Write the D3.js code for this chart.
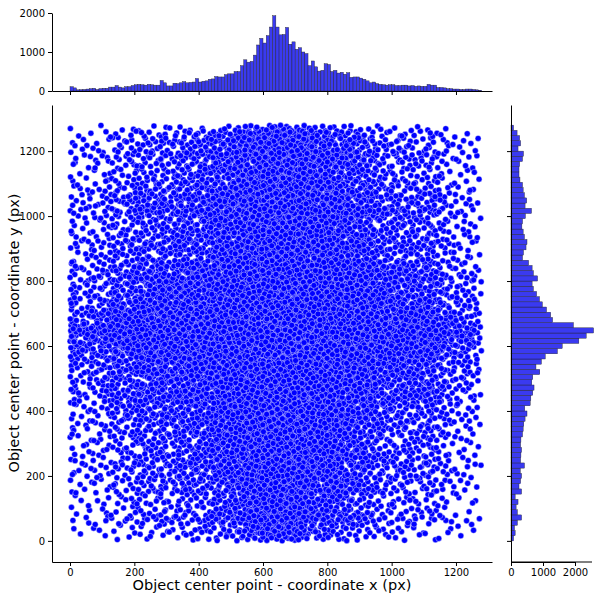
<!DOCTYPE html><html><head><meta charset="utf-8"><script src="https://cdn.jsdelivr.net/npm/d3@7"></script>
<style>body{margin:0;background:#fff}text{font-family:"DejaVu Sans",sans-serif}</style></head><body><svg id="c" width="600" height="600"></svg>
<script>
// x marginal histogram: bin width 10, starting at 0
const xBinWidth = 10;
const xCounts = [110,80,30,35,40,50,60,70,40,60,70,70,100,100,140,100,80,110,110,140,
160,170,160,150,170,160,150,150,270,210,130,130,200,190,210,240,210,220,230,320,
230,250,260,300,310,370,360,360,420,440,440,500,500,650,800,740,760,920,1180,1350,
1230,1420,1640,1930,1640,1440,1450,1630,1200,1260,1070,1110,1000,960,650,770,620,510,530,700,
680,500,530,460,480,430,470,350,360,360,330,300,260,210,230,190,170,160,150,160,
160,140,140,150,150,130,140,120,130,120,120,170,150,150,90,90,80,60,60,50,
50,40,40,50,50,40,30,20];
// y marginal histogram: bin width 16, listed from top (1280) down to 0
const yBinWidth = 16;
const yCountsTopDown = [80,190,270,300,220,390,360,270,250,250,280,360,380,420,490,440,640,450,360,340,
380,420,500,470,390,360,550,660,700,830,660,700,800,890,980,1110,1240,1300,1950,2580,
2350,2120,1600,1450,1070,950,780,900,680,650,720,680,620,600,430,500,440,400,380,360,
310,300,330,310,300,420,290,330,300,250,330,130,220,160,200,330,200,110,130,80];
const yCounts = yCountsTopDown.slice().reverse();
const xTicks = [0,200,400,600,800,1000,1200];
const yTicks = [0,200,400,600,800,1000,1200];
const topTicks = [0,1000,2000];
const rightTicks = [0,1000,2000];
const nPoints = 15000;

const svg = d3.select("#c");
const x = d3.scaleLinear().domain([-56,1312]).range([52,492]);
const y = d3.scaleLinear().domain([-65,1342]).range([562,105]);
const hy = d3.scaleLinear().domain([0,2000]).range([91,13]);
const hx = d3.scaleLinear().domain([0,2000]).range([511,575]);
const fmt = d3.format("d");

function halton(i,b){let f=1,r=0;while(i>0){f/=b;r+=f*(i%b);i=Math.floor(i/b);}return r;}
function invCdf(counts,w){const tot=d3.sum(counts);const cum=d3.cumsum(counts);
  return u=>{const t=u*tot;let k=d3.bisectLeft(cum,t);k=Math.min(k,counts.length-1);
    const prev=k?cum[k-1]:0;return (k+(t-prev)/counts[k])*w;};}
const fx=invCdf(xCounts.map(v=>Math.pow(v,0.7)),xBinWidth), fy=invCdf(yCounts.map(v=>Math.pow(v,0.7)),yBinWidth);
const pts=d3.range(1,nPoints+1).map(i=>[fx(halton(i,2)),fy(halton(i,3))]);
svg.append("g").selectAll("circle").data(pts).join("circle")
  .attr("cx",d=>x(d[0])).attr("cy",d=>y(d[1])).attr("r",3)
  .attr("fill","#0000ff").attr("stroke","#fff").attr("stroke-width",0.4);

function ax(g){g.selectAll("text").attr("font-size",10).attr("fill","#000");}
ax(svg.append("g").attr("transform","translate(0,562)").call(d3.axisBottom(x).tickValues(xTicks).tickFormat(fmt).tickSize(4).tickPadding(3).tickSizeOuter(0)));
ax(svg.append("g").attr("transform","translate(52,0)").call(d3.axisLeft(y).tickValues(yTicks).tickFormat(fmt).tickSize(4).tickPadding(3).tickSizeOuter(0)));
svg.append("text").attr("x",272).attr("y",590).attr("text-anchor","middle").attr("font-size",14.5).text("Object center point - coordinate x (px)");
svg.append("text").attr("transform","translate(19,333) rotate(-90)").attr("text-anchor","middle").attr("font-size",14.5).text("Object center point - coordinate y (px)");

svg.append("g").selectAll("rect").data(xCounts).join("rect")
  .attr("x",(d,i)=>x(i*xBinWidth)).attr("width",x(xBinWidth)-x(0))
  .attr("y",d=>hy(d)).attr("height",d=>hy(0)-hy(d))
  .attr("fill","#3a3af0").attr("stroke","#222").attr("stroke-width",0.4);
svg.append("g").attr("transform","translate(0,91)").call(d3.axisBottom(x).tickValues(xTicks).tickFormat("").tickSize(4).tickSizeOuter(0));
ax(svg.append("g").attr("transform","translate(52,0)").call(d3.axisLeft(hy).tickValues(topTicks).tickFormat(fmt).tickSize(4).tickPadding(3).tickSizeOuter(0)));

svg.append("g").selectAll("rect").data(yCounts).join("rect")
  .attr("y",(d,i)=>y((i+1)*yBinWidth)).attr("height",y(0)-y(yBinWidth))
  .attr("x",hx(0)).attr("width",d=>hx(d)-hx(0))
  .attr("fill","#3a3af0").attr("stroke","#222").attr("stroke-width",0.4);
svg.append("g").attr("transform","translate(511,0)").call(d3.axisLeft(y).tickValues(yTicks).tickFormat("").tickSize(4).tickSizeOuter(0));
ax(svg.append("g").attr("transform","translate(0,562)").call(d3.axisBottom(hx).tickValues(rightTicks).tickFormat(fmt).tickSize(4).tickPadding(3).tickSizeOuter(0)));
svg.append("line").attr("x1",511).attr("x2",592).attr("y1",562).attr("y2",562).attr("stroke","#000");
</script></body></html>
